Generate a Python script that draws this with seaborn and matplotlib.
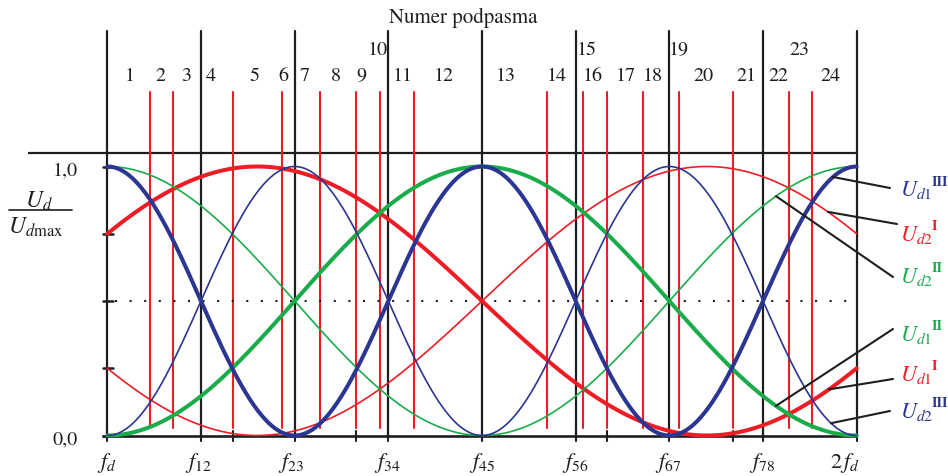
import numpy as np
import pandas as pd
import matplotlib
matplotlib.use("Agg")
import matplotlib.pyplot as plt
import seaborn as sns

# ---- data -------------------------------------------------------------
# Crossover frequencies between f_d and 2f_d (in equal steps)
boundary_pos = [0, 1, 2, 3, 4, 5, 6, 7, 8]
boundary_labels = [r'$f_d$', r'$f_{12}$', r'$f_{23}$', r'$f_{34}$', r'$f_{45}$',
                   r'$f_{56}$', r'$f_{67}$', r'$f_{78}$', r'$2\,f_d$']

# Sub-band edges lying between the crossovers (same step units)
subband_edges = [0.453, 0.698, 1.339, 1.868, 2.271, 2.658, 2.908, 3.274,
                 4.697, 5.081, 5.334, 5.716, 6.103, 6.676, 7.277, 7.526]
subband_numbers = list(range(1, 25))
raised_numbers = [10, 15, 19, 23]

# Tick marks on the frequency axis
axis_ticks = [0, 1, 1.339, 2, 2.658, 3, 4, 5, 5.334, 6, 6.676, 7, 8]
level_ticks = [0.0, 0.25, 0.5, 0.75, 1.0]
level_values = [0.0, 1.0]
level_labels = ['0,0', '1,0']

# Each response is cos^2 of a phase that runs linearly from f_d to 2f_d (deg)
curve_names = ['Ud1_I', 'Ud2_I', 'Ud1_II', 'Ud2_II', 'Ud1_III', 'Ud2_III']
curve_base = [r'$U_{d1}$', r'$U_{d2}$', r'$U_{d1}$', r'$U_{d2}$',
              r'$U_{d1}$', r'$U_{d2}$']
curve_order = ['I', 'I', 'II', 'II', 'III', 'III']
phase_start = [-30, -120, -90, 0, 0, -90]
phase_end = [120, 30, 90, 180, 360, 270]

# ---- styling ----------------------------------------------------------
BLUE, RED, GREEN, BLACK = '#2b3592', '#ee1c25', '#1aab4b', '#1e1e1e'
style = {
    'Ud1_I':   dict(color=RED, lw=2.9),
    'Ud2_I':   dict(color=RED, lw=1.2),
    'Ud1_II':  dict(color=GREEN, lw=2.9),
    'Ud2_II':  dict(color=GREEN, lw=1.2),
    'Ud1_III': dict(color=BLUE, lw=2.9),
    'Ud2_III': dict(color=BLUE, lw=1.2),
}

sns.set_style("white")
plt.rcParams['font.family'] = ['STIXGeneral', 'DejaVu Serif']
plt.rcParams['mathtext.fontset'] = 'stix'

W, H = 948, 477
fig = plt.figure(figsize=(W / 100, H / 100), dpi=100)
fig.patch.set_facecolor('white')

# pixel frame of the plotting area
X0, DX, Y0, DY = 107.3, 93.675, 436.5, 269.0
ax = fig.add_axes([X0 / W, (H - Y0) / H, 8 * DX / W, DY / H])
ax.set_xlim(0, 8)
ax.set_ylim(0, 1)
ax.axis('off')


def px(x, y):
    return (x - X0) / DX, (Y0 - y) / DY


def ftext(x, y, s, **kw):
    fig.text(x / W, 1 - y / H, s, **kw)


def line(p, q, **kw):
    (x1, y1), (x2, y2) = px(*p), px(*q)
    ax.plot([x1, x2], [y1, y2], clip_on=False, solid_capstyle='butt', **kw)


# curve table
t = np.linspace(0, 8, 600)
rows = []
for name, a, b in zip(curve_names, phase_start, phase_end):
    phi = np.deg2rad(a + (b - a) * t / 8)
    rows.append(pd.DataFrame({'f': t, 'U': np.cos(phi) ** 2, 'curve': name}))
df = pd.concat(rows, ignore_index=True)

# black crossover lines
top = px(0, 32)[1]
for b in boundary_pos:
    ax.plot([b, b], [0, top], color=BLACK, lw=1.6, clip_on=False, zorder=2)
# upper frame line
line((28, 154.3), (857, 154.3), color=BLACK, lw=1.6, zorder=2)
# frequency axis
line((101.5, Y0), (857, Y0), color=BLACK, lw=1.9, zorder=2)
for tk in axis_ticks:
    ax.plot([tk, tk], [px(0, 441.5)[1], px(0, 431.5)[1]], color=BLACK,
            lw=1.5, clip_on=False, zorder=2)
for lv in level_ticks:
    ax.plot([px(103, 0)[0], px(113, 0)[0]], [lv, lv], color=BLACK, lw=1.8,
            clip_on=False, zorder=2)

# red sub-band edges
for e in subband_edges:
    ax.plot([e, e], [px(0, 429)[1], px(0, 93)[1]], color=RED, lw=1.5,
            clip_on=False, zorder=3)

# half-level dotted line
ax.plot([0.08, 8], [0.5, 0.5], color=BLACK, lw=1.5, ls=(0, (1, 6)),
        clip_on=False, zorder=3)

# response curves
for name in curve_names:
    sub = df[df['curve'] == name]
    sns.lineplot(data=sub, x='f', y='U', ax=ax, color=style[name]['color'],
                 linewidth=style[name]['lw'], legend=False, zorder=5)
for ln in ax.lines:
    ln.set_clip_on(False)

# sub-band numbers
num_x = [129.3, 160.7, 186, 211, 254.3, 283.7, 305, 336, 361, 377.7, 402.7,
         443.3, 506, 556.7, 586.7, 592.7, 625.7, 653.3, 678.7, 703.3, 746.7,
         778.7, 799.3, 830.7]
for n, x in zip(subband_numbers, num_x):
    y = 50 if n in raised_numbers else 76.5
    ftext(x, y, str(n), ha='center', va='center', fontsize=14.5, color=BLACK)

ftext(463, 18, 'Numer podpasma', ha='center', va='center', fontsize=15,
      color=BLACK)

# frequency labels
lab_x = [107, 198, 291, 387, 482, 575, 668, 762, 845]
for s, x in zip(boundary_labels, lab_x):
    ftext(x, 463, s, ha='center', va='center', fontsize=16, color=BLACK)

# level labels
for lv, s in zip(level_values, level_labels):
    ftext(78, Y0 - lv * DY + 3, s, ha='right', va='center',
          fontsize=14.5, color=BLACK)

# y-axis quantity as a fraction
ftext(39, 201, r'$U_d$', ha='center', va='center', fontsize=17, color=BLACK)
ax.plot([px(9, 0)[0], px(72, 0)[0]], [px(0, 211)[1]] * 2, color=BLACK, lw=1.2,
        clip_on=False)
ftext(36, 227, r'$U_{d\mathrm{max}}$', ha='center', va='center', fontsize=17,
      color=BLACK)

# curve labels with leader lines
label_spec = {
    'Ud1_III': (833, (890, 189), 190, BLUE),
    'Ud2_I':   (828, (897, 225), 235, RED),
    'Ud2_II':  (776, (893, 278), 277, GREEN),
    'Ud1_II':  (776, (893, 330), 335, GREEN),
    'Ud1_I':   (829, (893, 380), 375, RED),
    'Ud2_III': (831, (890, 412), 412, BLUE),
}
for name, (sx, end, ty, col) in label_spec.items():
    i = curve_names.index(name)
    ts = (sx - X0) / DX
    phi = np.deg2rad(phase_start[i] + (phase_end[i] - phase_start[i]) * ts / 8)
    us = np.cos(phi) ** 2
    ex, ey = px(*end)
    ax.plot([ts, ex], [us, ey], color=BLACK, lw=1.5, clip_on=False, zorder=6)
    ftext(900, ty, curve_base[i], ha='left', va='center', fontsize=16,
          color=col)
    ftext(932, ty - 8, curve_order[i], ha='left', va='center', fontsize=10,
          fontweight='bold', color=col)

fig.savefig('out.png', dpi=100, facecolor='white')
